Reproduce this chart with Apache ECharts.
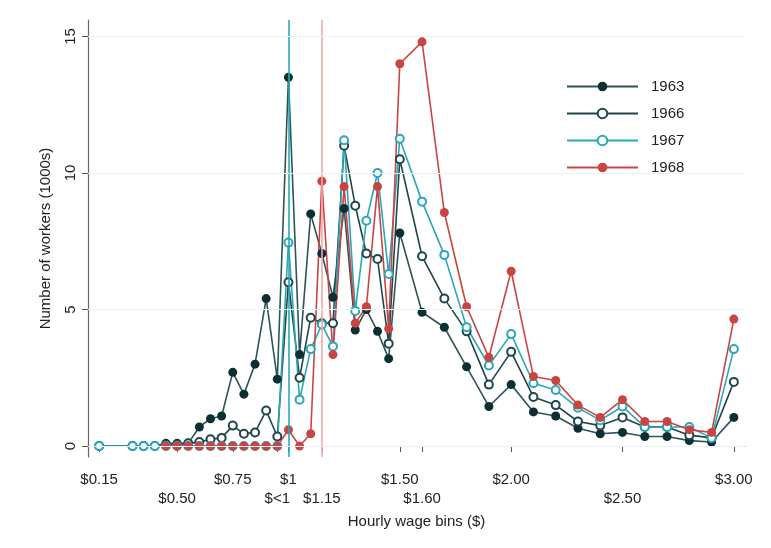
<!DOCTYPE html>
<html><head><meta charset="utf-8">
<script src="https://cdn.jsdelivr.net/npm/echarts@6/dist/echarts.min.js"></script>
<style>html,body{margin:0;padding:0;background:#fff}#c{width:771px;height:548px}</style>
</head><body><div id="c"></div>
<script>
const bins = [0.15,0.30,0.35,0.40,0.45,0.50,0.55,0.60,0.65,0.70,0.75,0.80,0.85,0.90,0.95,1.00,1.05,1.10,1.15,1.20,1.25,1.30,1.35,1.40,1.45,1.50,1.60,1.70,1.80,1.90,2.00,2.10,2.20,2.30,2.40,2.50,2.60,2.70,2.80,2.90,3.00];
const y1963 = [0,0,0,0, 0.1,0.1,0.1,0.7,1.0,1.1,2.7,1.9,3.0,5.4,2.45, 13.5,3.35,8.5,7.05,5.45,8.7,4.25,5.0,4.2,3.2,7.8, 4.9,4.35,2.9,1.45,2.25,1.25,1.1,0.65,0.45,0.5,0.35,0.35,0.2,0.15,1.05];
const y1966 = [0,0,0,0, 0.05,0.05,0.1,0.15,0.25,0.3,0.75,0.45,0.5,1.3,0.35, 6.0,2.5,4.7,4.5,4.5,11.0,8.8,7.05,6.85,3.75,10.5, 6.95,5.4,4.2,2.25,3.45,1.8,1.5,0.9,0.75,1.05,0.7,0.7,0.4,0.3,2.35];
const y1967 = [0,0,0,0, 0,0,0,0,0,0,0,0,0,0,0, 7.45,1.7,3.55,4.45,3.65,11.2,4.95,8.25,10.0,6.3,11.25, 8.95,7.0,4.35,2.95,4.1,2.3,2.05,1.4,0.95,1.45,0.7,0.7,0.7,0.3,3.55];
const y1968 = [null,null,null,null, 0,0,0,0,0,0,0,0,0,0,0, 0.6,0,0.45,9.7,3.35,9.5,4.5,5.1,9.5,4.3,14.0, 14.8,8.55,5.1,3.25,6.4,2.55,2.4,1.5,1.05,1.7,0.9,0.9,0.6,0.5,4.65];
const xTickValues = [0.15,0.5,0.75,0.95,1,1.15,1.5,1.6,2,2.5,3];
const xTickLabels = ['$0.15','$0.50','$0.75','$<1','$1','$1.15','$1.50','$1.60','$2.00','$2.50','$3.00'];
const xTickRow = [1,2,1,2,1,2,1,2,1,2,1];
const yTickValues = [0,5,10,15];
const refLines = [1.0, 1.15];
const names = ['1963','1966','1967','1968'];

const pair = ys => bins.map((b,i)=>[b, ys[i]]);
const font = 'Liberation Sans, Arial, sans-serif';
const chart = echarts.init(document.getElementById('c'));
function ser(name, ys, lineColor, markColor, empty) {
  return {
    name, type:'line', data: pair(ys), z: 3,
    symbol: empty ? 'emptyCircle' : 'circle', symbolSize: empty ? 8 : 9,
    connectNulls: false,
    lineStyle: {color: lineColor, width: 1.6},
    itemStyle: empty ? {color: markColor, borderColor: markColor, borderWidth: 1.6} : {color: markColor, borderWidth: 0},
    emphasis: {disabled: true}
  };
}
chart.setOption({
  animation: false,
  grid: {left: 88, right: 26, top: 20, bottom: 91},
  legend: {
    data: names, orient: 'vertical', left: 566, top: 79, padding: 0,
    itemWidth: 71, itemHeight: 12, itemGap: 12, z: 10,
    textStyle: {fontSize: 15, fontFamily: font, color: '#222', padding: [0, 0, 0, 8]}
  },
  xAxis: {
    type: 'value', min: 0.1, max: 3.05,
    name: 'Hourly wage bins ($)', nameLocation: 'middle', nameGap: 57,
    nameTextStyle: {fontSize: 15, fontFamily: font, color: '#222'},
    axisLine: {show: true, lineStyle: {color: '#666', width: 1.2}},
    axisTick: {show: true, customValues: xTickValues, length: 6, lineStyle: {color: '#555'}},
    axisLabel: {
      customValues: xTickValues, margin: 13, fontSize: 15, fontFamily: font, color: '#222', lineHeight: 19,
      formatter: v => { const i = xTickValues.findIndex(t => Math.abs(t - v) < 1e-6); if (i < 0) return ''; return (xTickRow[i] === 2 ? '\n' : '') + xTickLabels[i]; }
    },
    splitLine: {show: false}
  },
  yAxis: {
    type: 'value', min: -0.4, max: 15.6,
    name: 'Number of workers (1000s)', nameLocation: 'middle', nameGap: 35,
    nameTextStyle: {fontSize: 15, fontFamily: font, color: '#222'},
    axisLine: {show: true, lineStyle: {color: '#666', width: 1.2}},
    axisTick: {show: true, customValues: yTickValues, length: 6, lineStyle: {color: '#555'}},
    axisLabel: {customValues: yTickValues, rotate: 90, margin: 10, fontSize: 15, fontFamily: font, color: '#222'},
    splitLine: {show: false}
  },
  series: [
    {
      name: 'ref', type: 'line', data: [], z: 1, silent: true,
      markLine: {
        silent: true, symbol: 'none', label: {show: false},
        data: [
          {xAxis: refLines[0], lineStyle: {color: '#2aa7b8', width: 1.6, type: 'solid'}},
          {xAxis: refLines[1], lineStyle: {color: '#f2a8a8', width: 1.6, type: 'solid'}}
        ].concat(yTickValues.map(v => ({yAxis: v, lineStyle: {color: '#e9f2f4', width: 1.2, type: 'solid'}})))
      }
    },
    ser('1963', y1963, '#2e5457', '#0b2f33', false),
    ser('1966', y1966, '#1f4649', '#1f4649', true),
    ser('1967', y1967, '#2aa7b8', '#2aa7b8', true),
    ser('1968', y1968, '#c94543', '#c94543', false)
  ]
});
</script></body></html>
